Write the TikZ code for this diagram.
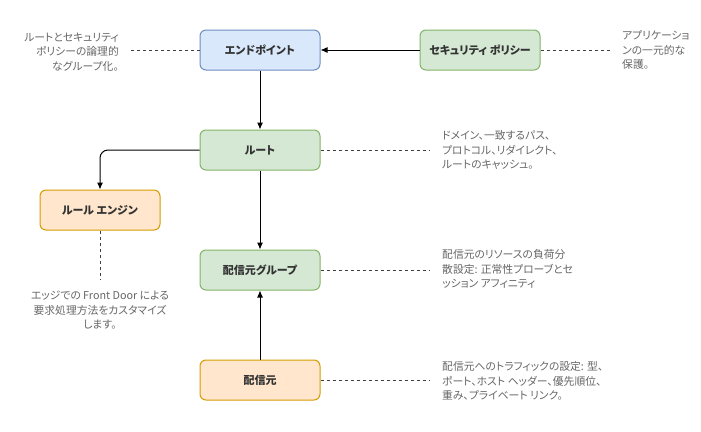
\documentclass[tikz,border=0pt]{standalone}
\usepackage{fontspec}
\setmainfont{Noto Sans CJK JP}[RawFeature=+palt]
\usetikzlibrary{arrows.meta}
\definecolor{bluefill}{HTML}{DAE8FC}
\definecolor{blueline}{HTML}{6C8EBF}
\definecolor{greenfill}{HTML}{D5E8D4}
\definecolor{greenline}{HTML}{82B366}
\definecolor{orangefill}{HTML}{FFE6CC}
\definecolor{orangeline}{HTML}{D79B00}
\definecolor{notegray}{HTML}{666666}
\definecolor{labeltext}{HTML}{333333}
\tikzset{
  box/.style={draw, line width=1pt, rounded corners=6pt, minimum width=120pt, minimum height=40pt,
    inner sep=0pt, font=\fontsize{11}{13}\selectfont\bfseries, text=labeltext},
  bluebox/.style={box, fill=bluefill, draw=blueline},
  greenbox/.style={box, fill=greenfill, draw=greenline},
  orangebox/.style={box, fill=orangefill, draw=orangeline},
  note/.style={inner sep=0pt, font=\fontsize{10.8}{14.5}\selectfont, text=notegray},
  conn/.style={line width=1pt, -{Latex[length=7pt,width=6pt]}},
  dashline/.style={line width=1pt, dashed, dash pattern=on 3pt off 3pt, draw=black!75}
}
\begin{document}
\begin{tikzpicture}[x=1pt,y=-1pt]
\useasboundingbox (0,0) rectangle (701,431);
\node[bluebox] (ep) at (260,50) {エンドポイント};
\node[greenbox] (sec) at (480,50) {セキュリティ ポリシー};
\node[greenbox] (rt) at (260,150) {ルート};
\node[orangebox] (re) at (100,210) {ルール エンジン};
\node[greenbox] (og) at (260,270) {配信元グループ};
\node[orangebox] (or) at (260,380) {配信元};

\node[note, anchor=east, align=right] (n1) at (119,52) {ルートとセキュリティ\\ポリシーの論理的\\なグループ化。};
\node[note, anchor=west, align=left] (n2) at (622,50) {アプリケーショ\\ンの一元的な\\保護。};
\node[note, anchor=west, align=left] (n3) at (442,150) {ドメイン、一致するパス、\\プロトコル、リダイレクト、\\ルートのキャッシュ。};
\node[note, anchor=north, align=center] (n4) at (100,291) {エッジでの Front Door による\\要求処理方法をカスタマイズ\\します。};
\node[note, anchor=west, align=left] (n5) at (442,269) {配信元のリソースの負荷分\\散設定: 正常性プローブとセ\\ッション アフィニティ};
\node[note, anchor=west, align=left] (n6) at (442,381) {配信元へのトラフィックの設定: 型、\\ポート、ホスト ヘッダー、優先順位、\\重み、プライベート リンク。};

\coordinate (d1) at (130,50);
\coordinate (d2) at (610,50);
\coordinate (d3) at (430,150);
\coordinate (d4) at (100,280);
\coordinate (d5) at (430,270);
\coordinate (d6) at (430,380);

\draw[conn] (sec) -- (ep);
\draw[conn] (ep) -- (rt);
\draw[conn, rounded corners=8pt] (rt.west) -| (re.north);
\draw[conn] (rt) -- (og);
\draw[conn] (or) -- (og);

\draw[dashline] (ep.west) -- (d1);
\draw[dashline] (sec.east) -- (d2);
\draw[dashline] (rt.east) -- (d3);
\draw[dashline] (re.south) -- (d4);
\draw[dashline] (og.east) -- (d5);
\draw[dashline] (or.east) -- (d6);
\end{tikzpicture}
\end{document}
